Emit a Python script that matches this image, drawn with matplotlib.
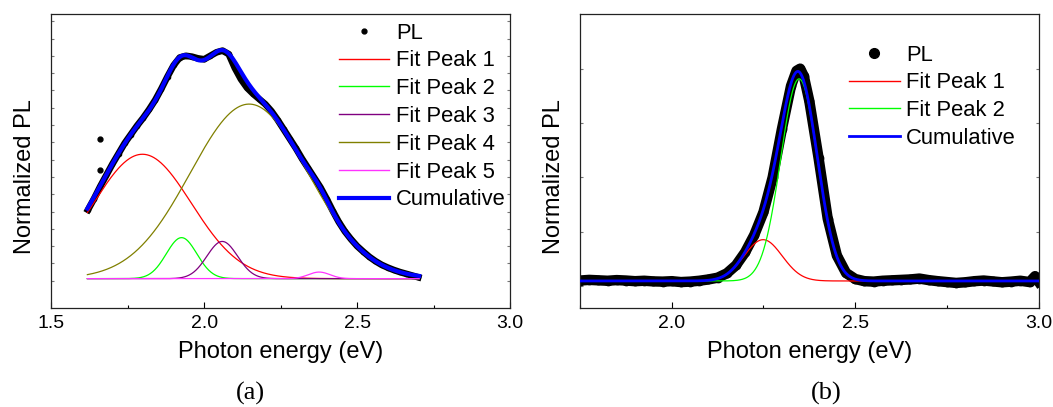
import numpy as np
import matplotlib
matplotlib.use("Agg")
import matplotlib.pyplot as plt
from matplotlib.lines import Line2D
from matplotlib.ticker import MultipleLocator, FormatStrFormatter

plt.rcParams['font.family'] = ['Liberation Sans', 'DejaVu Sans']

# ---------------- Panel (a) data ----------------
energy_a = [1.62, 1.64, 1.66, 1.68, 1.70, 1.72, 1.74, 1.76, 1.78, 1.80,
            1.82, 1.84, 1.86, 1.88, 1.90, 1.92, 1.94, 1.96, 1.98, 2.00,
            2.02, 2.04, 2.06, 2.08, 2.10, 2.12, 2.14, 2.16, 2.18, 2.20,
            2.22, 2.24, 2.26, 2.28, 2.30, 2.32, 2.34, 2.36, 2.38, 2.40,
            2.42, 2.44, 2.46, 2.48, 2.50, 2.52, 2.54, 2.56, 2.58, 2.60,
            2.62, 2.64, 2.66, 2.68, 2.70]
pl_a = [0.41, 0.475, 0.545, 0.61, 0.675, 0.735, 0.795, 0.845, 0.895, 0.94,
        0.99, 1.045, 1.11, 1.18, 1.245, 1.29, 1.30, 1.295, 1.285, 1.28,
        1.30, 1.32, 1.33, 1.31, 1.23, 1.165, 1.115, 1.08, 1.05, 1.02,
        0.98, 0.93, 0.875, 0.82, 0.765, 0.705, 0.65, 0.595, 0.54, 0.475,
        0.405, 0.34, 0.285, 0.24, 0.20, 0.168, 0.138, 0.113, 0.092, 0.076,
        0.062, 0.05, 0.04, 0.03, 0.02]
outlier_energy_a = [1.659, 1.659]
outlier_pl_a = [0.819, 0.64]

# fit peaks (a): centre (eV), amplitude, sigma (eV)
baseline_a = 0.012
centers_a = [1.798, 1.926, 2.059, 2.147, 2.376]
amps_a = [0.719, 0.237, 0.215, 1.009, 0.038]
sigmas_a = [0.16, 0.05, 0.05, 0.1925, 0.035]
labels_a = ["Fit Peak 1", "Fit Peak 2", "Fit Peak 3", "Fit Peak 4", "Fit Peak 5"]
colors_a = ["#ff0000", "#00ff00", "#800080", "#808000", "#ff33ff"]
fit_range_a = (1.618, 2.703)

# ---------------- Panel (b) data ----------------
energy_b = [1.75, 1.775, 1.80, 1.825, 1.85, 1.875, 1.90, 1.925, 1.95, 1.975,
            2.00, 2.025, 2.05, 2.075, 2.10, 2.125, 2.15, 2.175, 2.20, 2.225,
            2.25, 2.275, 2.30, 2.325, 2.34, 2.35, 2.36, 2.375, 2.40, 2.425,
            2.45, 2.475, 2.50, 2.525, 2.55, 2.575, 2.60, 2.625, 2.65, 2.675,
            2.70, 2.725, 2.75, 2.775, 2.80, 2.825, 2.85, 2.875, 2.90, 2.925,
            2.95, 2.975, 2.99, 3.00]
pl_b = [0.025, 0.028, 0.026, 0.024, 0.027, 0.025, 0.022, 0.024, 0.021, 0.020,
        0.022, 0.018, 0.020, 0.024, 0.030, 0.038, 0.058, 0.095, 0.155, 0.235,
        0.34, 0.50, 0.72, 0.92, 0.99, 1.0, 0.965, 0.85, 0.59, 0.31,
        0.14, 0.06, 0.032, 0.022, 0.020, 0.024, 0.026, 0.028, 0.030, 0.034,
        0.027, 0.022, 0.018, 0.014, 0.017, 0.022, 0.025, 0.021, 0.017, 0.020,
        0.024, 0.018, 0.045, 0.020]

baseline_b = 0.023
centers_b = [2.249, 2.347]
amps_b = [0.19, 0.93]
sigmas_b = [0.052, 0.05]
labels_b = ["Fit Peak 1", "Fit Peak 2"]
colors_b = ["#ff0000", "#00ff00"]
fit_range_b = (1.75, 3.0)


def gauss(x, xc, a, s):
    return a * np.exp(-(x - xc) ** 2 / (2 * s ** 2))


fig = plt.figure(figsize=(10.53, 4.07), dpi=100)
W, H = 1053, 407
ax_a = fig.add_axes([51.3 / W, (H - 307.7) / H, (510 - 51.3) / W, (307.7 - 14.3) / H])
ax_b = fig.add_axes([580 / W, (H - 307.7) / H, (1038.7 - 580) / W, (307.7 - 14.3) / H])

# ---- draw (a)
xa = np.linspace(*fit_range_a, 600)
ax_a.plot(energy_a, pl_a, color='black', lw=4.8, marker='o', ms=3, zorder=2)
ax_a.plot(outlier_energy_a, outlier_pl_a, 'o', color='black', ms=3.5, zorder=2)
cum_a = np.full_like(xa, baseline_a)
for c, a, s, col in zip(centers_a, amps_a, sigmas_a, colors_a):
    cum_a += gauss(xa, c, a, s)
    ax_a.plot(xa, baseline_a + gauss(xa, c, a, s), color=col, lw=0.9, zorder=3)
ax_a.plot(xa, cum_a, color='#0000ff', lw=3, zorder=4)

# ---- draw (b)
xb = np.linspace(*fit_range_b, 800)
ax_b.plot(energy_b, pl_b, color='black', lw=7.5, marker='o', ms=6, zorder=2)
cum_b = np.full_like(xb, baseline_b)
for c, a, s, col in zip(centers_b, amps_b, sigmas_b, colors_b):
    cum_b += gauss(xb, c, a, s)
    ax_b.plot(xb, baseline_b + gauss(xb, c, a, s), color=col, lw=0.9, zorder=3)
ax_b.plot(xb, cum_b, color='#0000ff', lw=2, zorder=4)

# ---- axes styling
ax_a.set_xlim(1.5, 3.0)
ax_a.set_ylim(-0.156, 1.54)
ax_a.set_yticks(np.arange(0, 1.55, 0.1))
ax_b.set_xlim(1.75, 3.0)
ax_b.set_ylim(-0.1, 1.25)
ax_b.set_yticks([0, 0.25, 0.5, 0.75, 1.0])

for ax in (ax_a, ax_b):
    ax.xaxis.set_major_locator(MultipleLocator(0.5))
    ax.xaxis.set_minor_locator(MultipleLocator(0.25))
    ax.xaxis.set_major_formatter(FormatStrFormatter('%.1f'))
    ax.tick_params(axis='x', which='major', direction='in', length=4, width=0.8,
                   labelsize=14, pad=5, top=False)
    ax.tick_params(axis='x', which='minor', direction='in', length=2.5, width=0.8, top=False)
    ax.tick_params(axis='y', which='major', direction='in', length=2, width=0.8,
                   color='#777777', left=True, right=True, labelleft=False)
    for sp in ax.spines.values():
        sp.set_linewidth(0.9)
        sp.set_color('#222222')
    ax.set_xlabel("Photon energy (eV)", fontsize=17, labelpad=7)
    ax.set_ylabel("Normalized PL", fontsize=17, labelpad=11)
    ax.yaxis.label.set_y(0.4465)

# ---- legends
h_a = [Line2D([], [], ls='none', marker='o', ms=3.5, color='black')]
h_a += [Line2D([], [], color=c, lw=1) for c in colors_a]
h_a += [Line2D([], [], color='#0000ff', lw=3)]
ax_a.legend(h_a, ["PL"] + labels_a + ["Cumulative"], loc='upper left',
            bbox_to_anchor=(0.627, 0.972), frameon=False, fontsize=15.8,
            handlelength=2.3, handletextpad=0.3, labelspacing=0.31,
            borderaxespad=0.0, borderpad=0.0)

h_b = [Line2D([], [], ls='none', marker='o', ms=7, color='black')]
h_b += [Line2D([], [], color=c, lw=1) for c in colors_b]
h_b += [Line2D([], [], color='#0000ff', lw=2)]
ax_b.legend(h_b, ["PL"] + labels_b + ["Cumulative"], loc='upper left',
            bbox_to_anchor=(0.587, 0.897), frameon=False, fontsize=15.8,
            handlelength=2.3, handletextpad=0.3, labelspacing=0.31,
            borderaxespad=0.0, borderpad=0.0)

fig.text(250 / W, (H - 393) / H, "(a)", fontsize=19, family='Liberation Serif',
         ha='center', va='center')
fig.text(826 / W, (H - 393) / H, "(b)", fontsize=19, family='Liberation Serif',
         ha='center', va='center')

fig.savefig("out.png", dpi=100)
